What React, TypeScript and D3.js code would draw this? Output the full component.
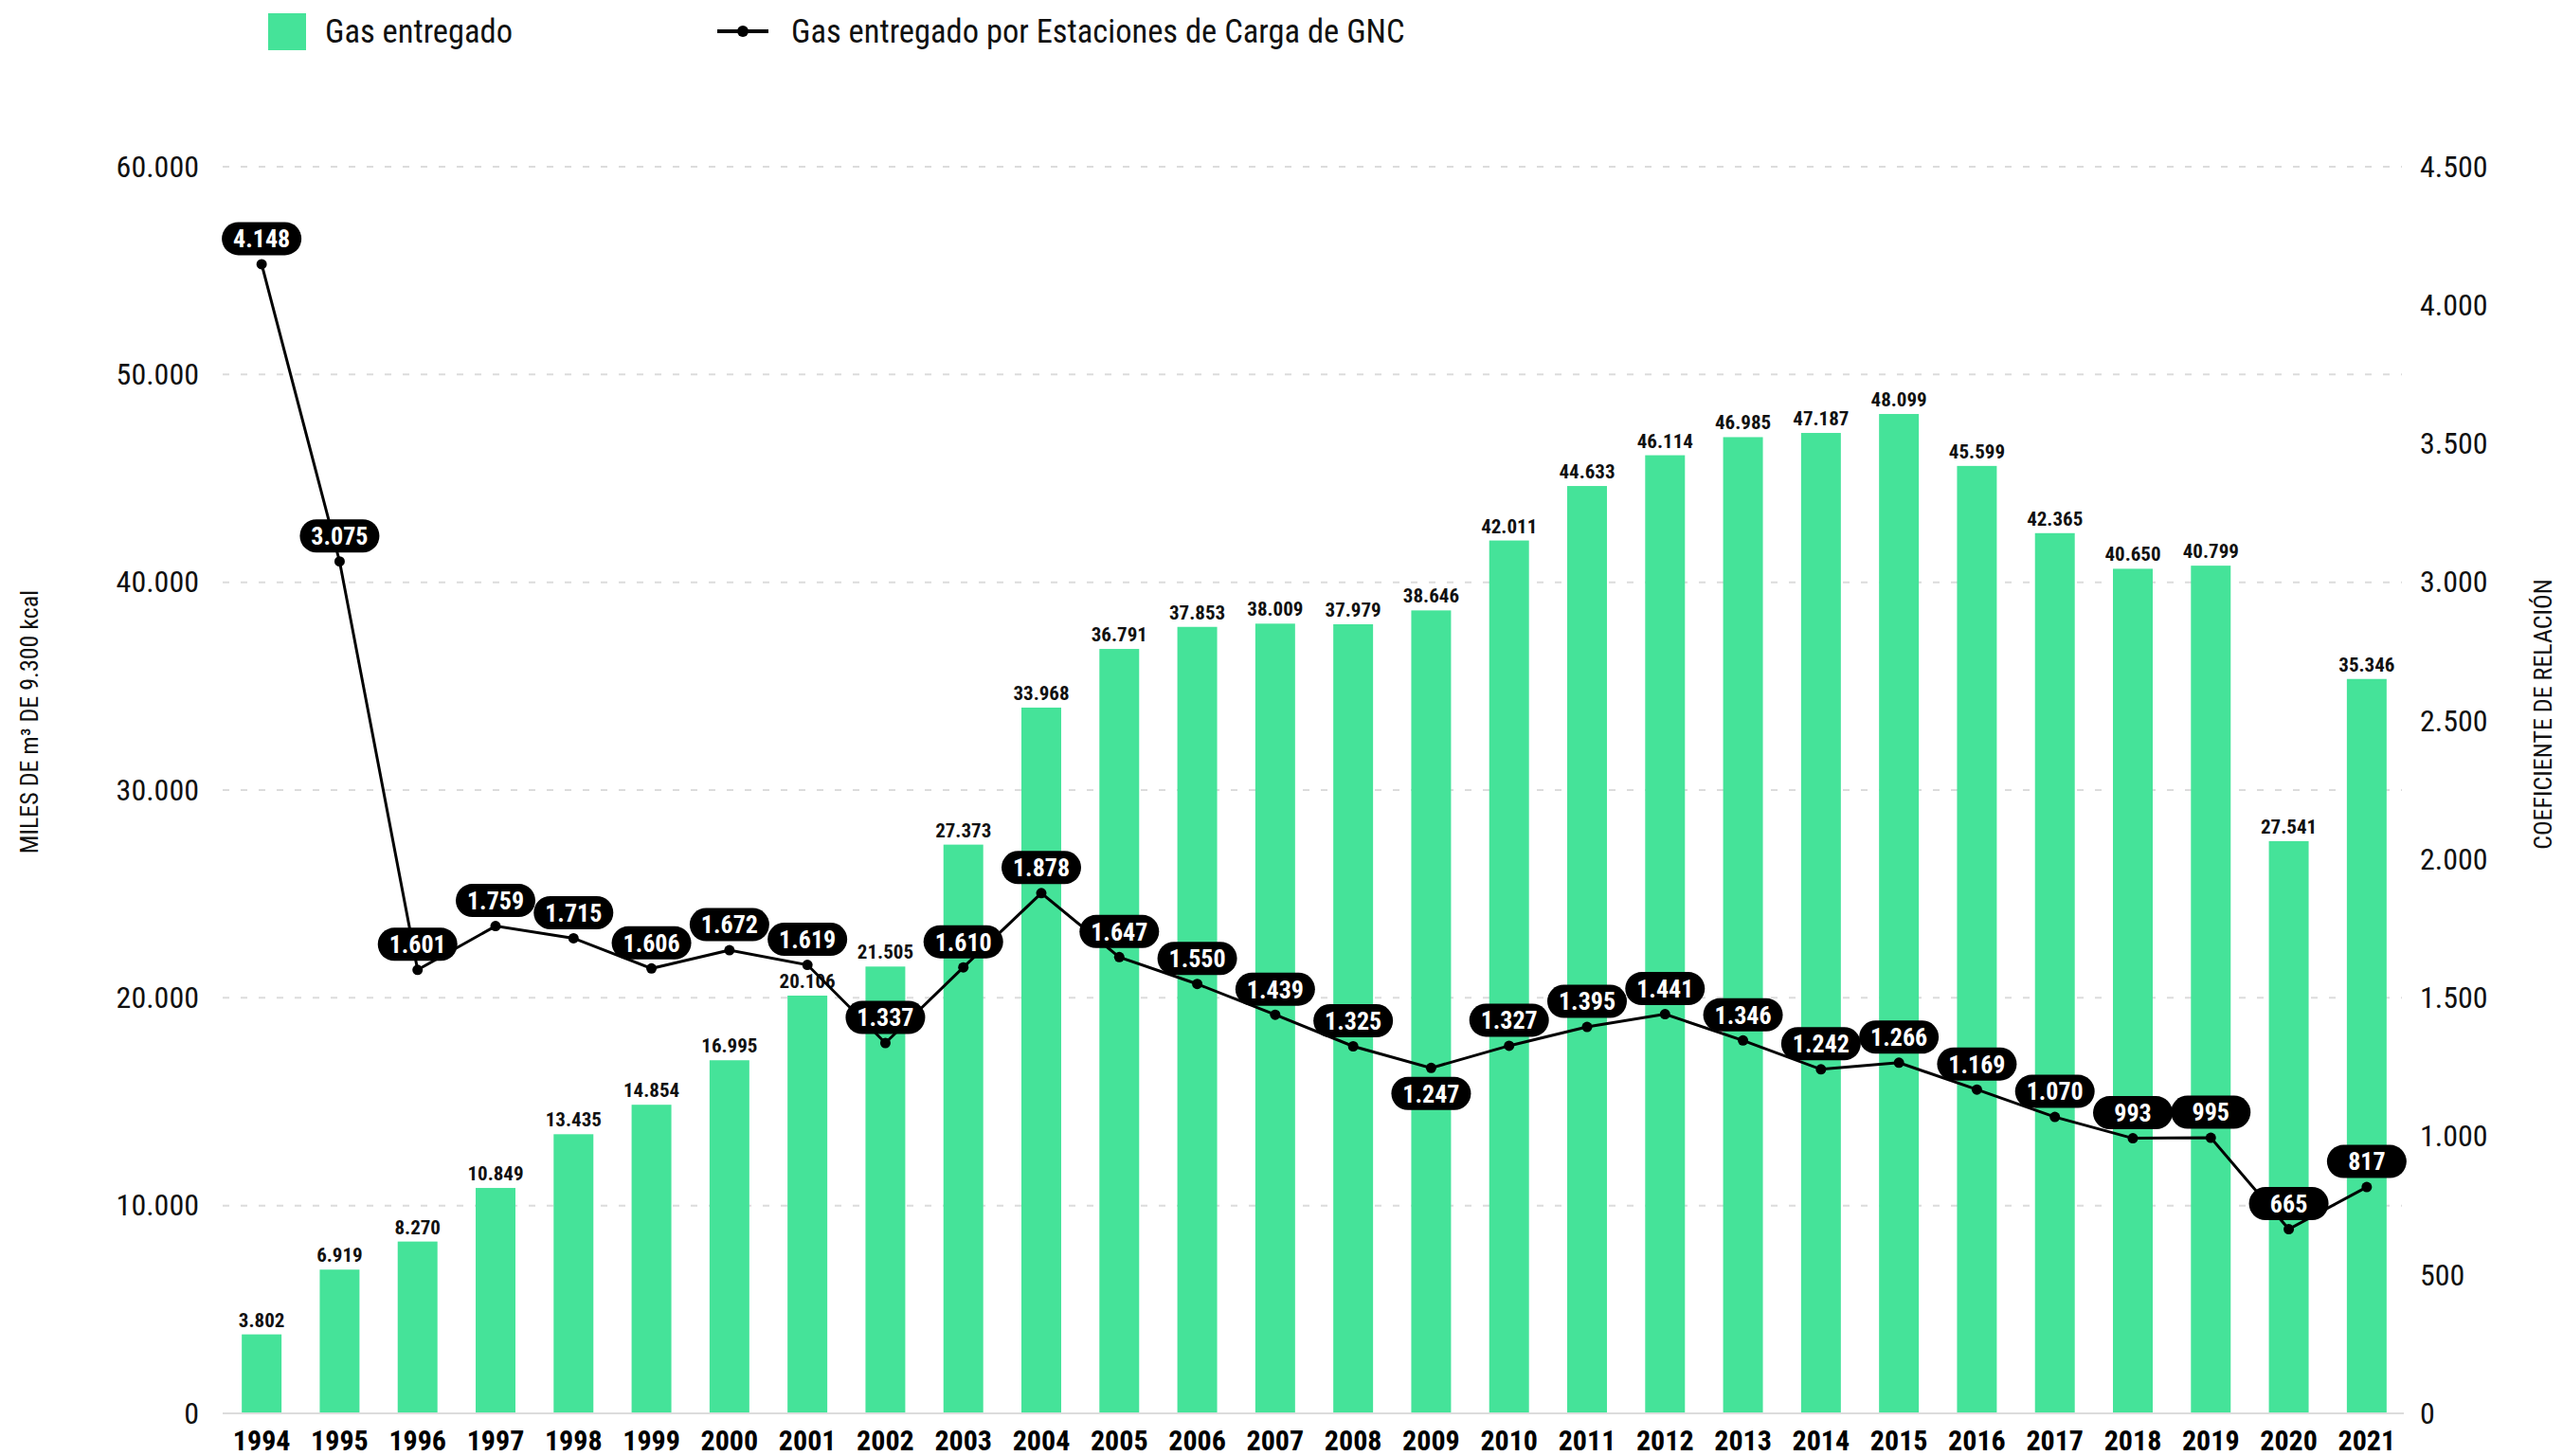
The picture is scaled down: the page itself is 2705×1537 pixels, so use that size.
import React, { useEffect, useRef } from "react";
import * as d3 from "d3";

const years = [
  "1994", "1995", "1996", "1997", "1998", "1999", "2000", "2001", "2002", "2003",
  "2004", "2005", "2006", "2007", "2008", "2009", "2010", "2011", "2012", "2013",
  "2014", "2015", "2016", "2017", "2018", "2019", "2020", "2021",
];
const gasEntregado = [
  3802, 6919, 8270, 10849, 13435, 14854, 16995, 20106, 21505, 27373,
  33968, 36791, 37853, 38009, 37979, 38646, 42011, 44633, 46114, 46985,
  47187, 48099, 45599, 42365, 40650, 40799, 27541, 35346,
];
const gasGNC = [
  4148, 3075, 1601, 1759, 1715, 1606, 1672, 1619, 1337, 1610,
  1878, 1647, 1550, 1439, 1325, 1247, 1327, 1395, 1441, 1346,
  1242, 1266, 1169, 1070, 993, 995, 665, 817,
];
const leftTicks = [0, 10000, 20000, 30000, 40000, 50000, 60000];
const rightTicks = [0, 500, 1000, 1500, 2000, 2500, 3000, 3500, 4000, 4500];
const labelBelow = ["2009"];

const W = 2705;
const H = 1537;
const GREEN = "#45e399";
const COND = "'Roboto Condensed', 'Liberation Sans Narrow', 'Arial Narrow', Roboto, sans-serif";

const es = d3.formatLocale({ decimal: ",", thousands: ".", grouping: [3], currency: ["$", ""] });
const fmt = es.format(",");

const App = () => {
  const svg = useRef(null);

  useEffect(() => {
    const root = d3.select(svg.current);
    root.selectAll("*").remove();

    const x = d3.scaleBand().domain(years).range([235, 2539]).paddingInner(0.49).paddingOuter(0.245);
    const yL = d3.scaleLinear().domain([0, 60000]).range([1492, 176]);
    const yR = d3.scaleLinear().domain([0, 4500]).range([1492, 176]);
    const cx = (d) => x(d) + x.bandwidth() / 2;

    // grid
    root.append("g")
      .selectAll("line")
      .data(leftTicks.filter((t) => t > 0))
      .join("line")
      .attr("x1", 235).attr("x2", 2535)
      .attr("y1", (d) => yL(d)).attr("y2", (d) => yL(d))
      .attr("stroke", "#dcdcdc").attr("stroke-width", 2)
      .attr("stroke-dasharray", "7,12");

    // left axis
    const gl = root.append("g").attr("transform", "translate(210,0)")
      .call(d3.axisLeft(yL).tickValues(leftTicks).tickSize(0).tickPadding(0).tickFormat(fmt));
    gl.select(".domain").remove();
    gl.selectAll("text").attr("font-family", COND).attr("font-size", 32).attr("fill", "#111");

    // right axis
    const gr = root.append("g").attr("transform", "translate(2554,0)")
      .call(d3.axisRight(yR).tickValues(rightTicks).tickSize(0).tickPadding(0).tickFormat(fmt));
    gr.select(".domain").remove();
    gr.selectAll("text").attr("font-family", COND).attr("font-size", 32).attr("fill", "#111");

    // bars
    root.append("g")
      .selectAll("rect")
      .data(years)
      .join("rect")
      .attr("x", (d) => x(d))
      .attr("width", x.bandwidth())
      .attr("y", (d, i) => yL(gasEntregado[i]))
      .attr("height", (d, i) => yL(0) - yL(gasEntregado[i]))
      .attr("fill", GREEN);

    // baseline
    root.append("line")
      .attr("x1", 235).attr("x2", 2537)
      .attr("y1", yL(0)).attr("y2", yL(0))
      .attr("stroke", "#dcdcdc").attr("stroke-width", 2);

    // bar labels
    root.append("g")
      .selectAll("text")
      .data(years)
      .join("text")
      .attr("x", cx)
      .attr("y", (d, i) => yL(gasEntregado[i]) - 8)
      .attr("text-anchor", "middle")
      .attr("font-family", COND).attr("font-weight", 700).attr("font-size", 21)
      .attr("fill", "#111")
      .text((d, i) => fmt(gasEntregado[i]));

    // x axis
    const gx = root.append("g").attr("transform", `translate(0,${yL(0)})`)
      .call(d3.axisBottom(x).tickSize(0).tickPadding(18));
    gx.select(".domain").remove();
    gx.selectAll("text").attr("font-family", COND).attr("font-weight", 700)
      .attr("font-size", 30).attr("fill", "#000");

    // line
    const line = d3.line().x((d, i) => cx(years[i])).y((d) => yR(d));
    root.append("path")
      .datum(gasGNC)
      .attr("d", line)
      .attr("fill", "none").attr("stroke", "#000").attr("stroke-width", 3);

    root.append("g")
      .selectAll("circle")
      .data(gasGNC)
      .join("circle")
      .attr("cx", (d, i) => cx(years[i]))
      .attr("cy", (d) => yR(d))
      .attr("r", 5.5)
      .attr("fill", "#000");

    // pill labels
    const pills = root.append("g")
      .selectAll("g")
      .data(gasGNC)
      .join("g")
      .attr("transform", (d, i) => {
        const off = labelBelow.includes(years[i]) ? 27 : -27;
        return `translate(${cx(years[i])},${yR(d) + off})`;
      });
    pills.append("rect")
      .attr("x", -42).attr("y", -17.5).attr("width", 84).attr("height", 35)
      .attr("rx", 17.5).attr("fill", "#000");
    pills.append("text")
      .attr("text-anchor", "middle").attr("dy", "0.36em")
      .attr("font-family", COND).attr("font-weight", 700).attr("font-size", 26)
      .attr("fill", "#fff")
      .text((d) => fmt(d));

    // axis titles
    root.append("text")
      .attr("transform", "translate(40,762) rotate(-90)")
      .attr("text-anchor", "middle")
      .attr("font-family", COND).attr("font-size", 26).attr("fill", "#111")
      .text("MILES DE m³ DE 9.300 kcal");
    root.append("text")
      .attr("transform", "translate(2693,754) rotate(-90)")
      .attr("text-anchor", "middle")
      .attr("font-family", COND).attr("font-size", 26).attr("fill", "#111")
      .text("COEFICIENTE DE RELACIÓN");

    // legend
    const lg = root.append("g");
    lg.append("rect").attr("x", 283).attr("y", 14).attr("width", 40).attr("height", 39).attr("fill", GREEN);
    lg.append("text").attr("x", 343).attr("y", 45)
      .attr("font-family", COND).attr("font-size", 34.5).attr("fill", "#111")
      .text("Gas entregado");
    lg.append("line").attr("x1", 757).attr("x2", 811).attr("y1", 33).attr("y2", 33)
      .attr("stroke", "#000").attr("stroke-width", 4);
    lg.append("circle").attr("cx", 784).attr("cy", 33).attr("r", 6).attr("fill", "#000");
    lg.append("text").attr("x", 835).attr("y", 45)
      .attr("font-family", COND).attr("font-size", 34.5).attr("fill", "#111")
      .text("Gas entregado por Estaciones de Carga de GNC");
  }, []);

  return (
    <>
      <style>{"body{margin:0}"}</style>
      <svg ref={svg} width={W} height={H} style={{ display: "block", background: "#fff" }} />
    </>
  );
};

export default App;
